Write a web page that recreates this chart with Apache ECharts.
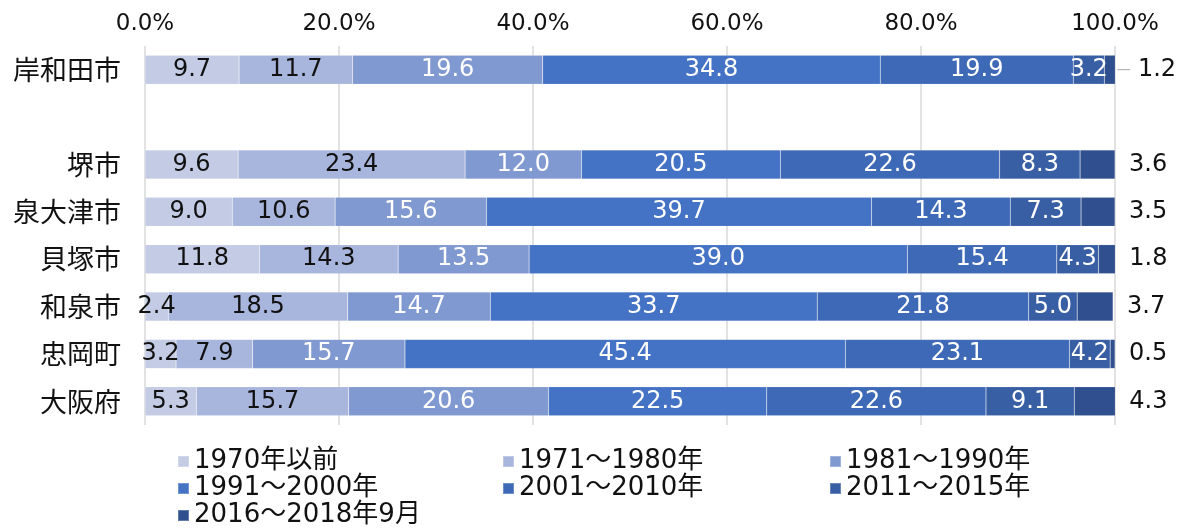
<!DOCTYPE html>
<html>
<head>
<meta charset="utf-8">
<script src="https://cdn.jsdelivr.net/npm/echarts@6/dist/echarts.min.js"></script>
<style>
  html, body { margin: 0; padding: 0; background: #fff; }
  #chart { width: 1183px; height: 529px; }
</style>
</head>
<body>
<div id="chart"></div>
<script>
// 地域（2行目は空行）
const areas = ['岸和田市', '', '堺市', '泉大津市', '貝塚市', '和泉市', '忠岡町', '大阪府']

const periods = ['1970年以前', '1971～1980年', '1981～1990年', '1991～2000年',
  '2001～2010年', '2011～2015年', '2016～2018年9月']

// 建築時期別の構成比 (%)
const v1970 = [9.7, '-', 9.6, 9.0, 11.8, 2.4, 3.2, 5.3]
const v1980 = [11.7, '-', 23.4, 10.6, 14.3, 18.5, 7.9, 15.7]
const v1990 = [19.6, '-', 12.0, 15.6, 13.5, 14.7, 15.7, 20.6]
const v2000 = [34.8, '-', 20.5, 39.7, 39.0, 33.7, 45.4, 22.5]
const v2010 = [19.9, '-', 22.6, 14.3, 15.4, 21.8, 23.1, 22.6]
const v2015 = [3.2, '-', 8.3, 7.3, 4.3, 5.0, 4.2, 9.1]
const v2018 = [1.2, '-', 3.6, 3.5, 1.8, 3.7, 0.5, 4.3]

const xTicks = [0, 20, 40, 60, 80, 100]

const seriesValues = [v1970, v1980, v1990, v2000, v2010, v2015, v2018]
const colors = ['#c3cbe5', '#a8b5dc', '#8099d0', '#4472c4', '#3e69b6', '#385ea4', '#2f4f8e']
const labelColors = ['#111', '#111', '#fff', '#fff', '#fff', '#fff', '#111']

const FONT = '"Noto Sans CJK JP", "Noto Sans", sans-serif'
const NUM_FONT = '"DejaVu Sans", "Noto Sans CJK JP", sans-serif'

const chart = echarts.init(document.getElementById('chart'))

const series = seriesValues.map((vals, i) => {
  const last = i === seriesValues.length - 1
  const data = vals.map((v, idx) => {
    // 岸和田市の最後の値は引き出し線付き
    if (last && idx === 0) {
      return {
        value: v,
        label: {
          distance: 2,
          formatter: '{l|} {c}',
          rich: {
            l: { width: 13, height: 1, backgroundColor: '#a6a6a6', verticalAlign: 'middle' }
          }
        }
      }
    }
    return v
  })
  return {
    name: periods[i],
    type: 'bar',
    stack: 'total',
    barWidth: 29,
    data: data,
    itemStyle: {
      color: colors[i],
      borderColor: 'rgba(255,255,255,0.25)',
      borderWidth: 0.5
    },
    label: {
      show: true,
      position: last ? 'right' : 'inside',
      distance: 14,
      color: labelColors[i],
      fontFamily: NUM_FONT,
      fontSize: 24,
      formatter: p => Number(p.value).toFixed(1)
    }
  }
})

const legendBase = {
  orient: 'vertical',
  top: 448,
  padding: 0,
  itemWidth: 11,
  itemHeight: 11,
  itemGap: 0,
  icon: 'rect',
  textStyle: { fontFamily: NUM_FONT, fontSize: 26, color: '#111', lineHeight: 27 }
}

const option = {
  animation: false,
  color: colors,
  grid: { left: 145, right: 68, top: 46, bottom: 104 },
  legend: [
    Object.assign({}, legendBase, { left: 177, data: [periods[0], periods[3], periods[6]] }),
    Object.assign({}, legendBase, { left: 502, data: [periods[1], periods[4]] }),
    Object.assign({}, legendBase, { left: 829, data: [periods[2], periods[5]] })
  ],
  xAxis: {
    type: 'value',
    position: 'top',
    min: xTicks[0],
    max: xTicks[xTicks.length - 1],
    interval: 20,
    axisLine: { show: false },
    axisTick: { show: false },
    splitLine: { lineStyle: { color: '#d9d9d9', width: 1.5 } },
    axisLabel: {
      margin: 10,
      fontFamily: NUM_FONT,
      fontSize: 23,
      color: '#111',
      formatter: v => v.toFixed(1) + '%'
    }
  },
  yAxis: {
    type: 'category',
    inverse: true,
    data: areas,
    axisLine: { show: false },
    axisTick: { show: false },
    axisLabel: {
      margin: 24,
      fontFamily: FONT,
      fontSize: 27,
      color: '#111'
    }
  },
  series: series
}

chart.setOption(option)
</script>
</body>
</html>
